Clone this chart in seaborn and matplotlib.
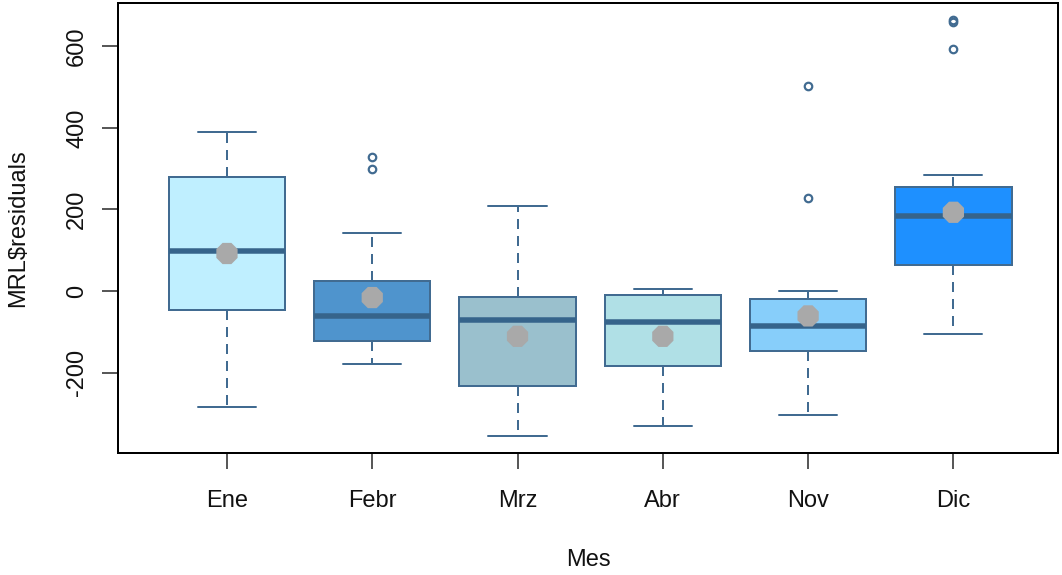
import numpy as np
import matplotlib
matplotlib.use("Agg")
import matplotlib.pyplot as plt
import seaborn as sns

# Resumen de los residuos por mes
meses = ["Ene", "Febr", "Mrz", "Abr", "Nov", "Dic"]
bigote_inf = [-285, -178, -356, -331, -305, -106]
cuartil_1 = [-46, -122, -234, -183, -148, 65]
mediana = [97, -61, -71, -76, -85, 183]
cuartil_3 = [280, 25, -15, -10, -20, 254]
bigote_sup = [391, 142, 209, 5, 0, 285]
media = [92, -16, -111, -111, -61, 193]
atipicos = [[], [300, 328], [], [], [229, 502], [594, 660, 665]]
colores = ["#BFEFFF", "#4F94CD", "#9AC0CD", "#B0E0E6", "#87CEFA", "#1E90FF"]
yticks = [-200, 0, 200, 400, 600]

sns.set_theme(style="ticks")
plt.rcParams["font.family"] = ["Liberation Sans", "DejaVu Sans"]

borde = "#416B91"
linea_mediana = "#36648B"
px = 0.72  # one pixel in points at 100 dpi
fs = 17

fig = plt.figure(figsize=(10.62, 5.75), dpi=100)
ax = fig.add_axes([118 / 1062, 1 - 453 / 575, 940 / 1062, 450 / 575])

pos = np.arange(len(meses))
stats = []
for i, m in enumerate(meses):
    stats.append(dict(label=m, whislo=bigote_inf[i], q1=cuartil_1[i], med=mediana[i],
                      q3=cuartil_3[i], whishi=bigote_sup[i], fliers=atipicos[i]))

bp = ax.bxp(stats, positions=pos, widths=0.8, patch_artist=True, showfliers=True,
            boxprops=dict(edgecolor=borde, linewidth=2 * px),
            medianprops=dict(color=linea_mediana, linewidth=5.5 * px, solid_capstyle="butt"),
            whiskerprops=dict(color=borde, linewidth=2 * px, linestyle=(0, (5, 3.5))),
            capprops=dict(color=borde, linewidth=2 * px),
            capwidths=0.4,
            flierprops=dict(marker="o", markerfacecolor="none", markeredgecolor=borde,
                            markersize=7.5 * px, markeredgewidth=2.2 * px))
for caja, c in zip(bp["boxes"], colores):
    caja.set_facecolor(c)

# Media de cada mes
sns.scatterplot(x=pos, y=media, ax=ax, marker="8", s=(23 * px) ** 2,
                color="#A9A9A9", edgecolor="none", zorder=5, legend=False)

ax.set_xlim(-0.75, 5.72)
ax.set_ylim(-397, 706)
ax.set_xticks(pos)
ax.set_xticklabels(meses)
ax.set_yticks(yticks)
ax.set_yticklabels([str(v) for v in yticks])

for s in ax.spines.values():
    s.set_visible(True)
    s.set_color("black")
    s.set_linewidth(2 * px)

ax.tick_params(axis="both", length=16 * px, width=1.5 * px, color="#222222",
               labelsize=fs, labelcolor="#111111")
ax.tick_params(axis="x", pad=15)
ax.tick_params(axis="y", pad=10)
for t in ax.get_yticklabels():
    t.set_rotation(90)
    t.set_va("center")

ax.set_xlabel("Mes", fontsize=fs, color="#111111")
ax.set_ylabel(r"MRL\$residuals", fontsize=fs, color="#111111")
ax.xaxis.set_label_coords(0.5, (453 - 560) / 450)
ax.xaxis.label.set_va("center")
ax.yaxis.set_label_coords((18 - 118) / 940, 0.5)
ax.yaxis.label.set_va("center")

fig.savefig("out.png", dpi=100)
